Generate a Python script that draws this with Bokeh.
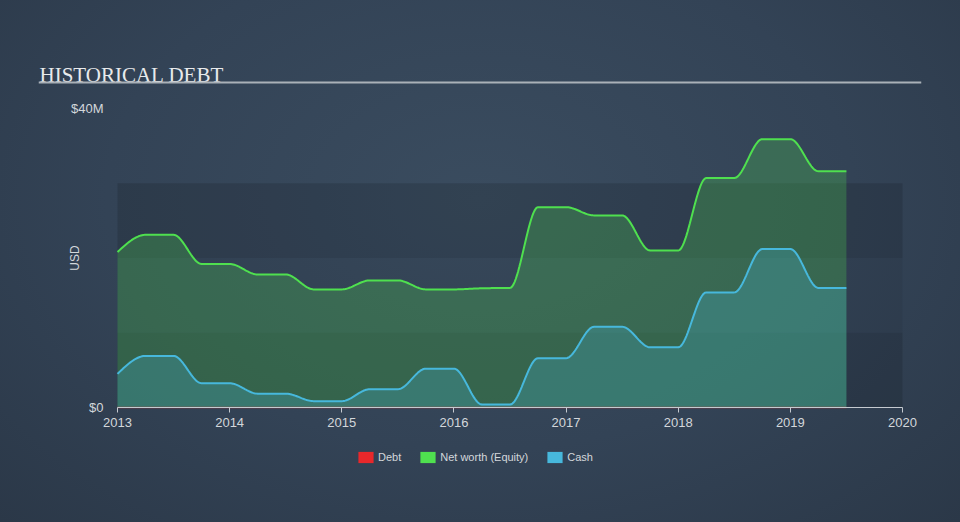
from bokeh.plotting import figure
from bokeh.models import Range1d, FixedTicker, Legend, LegendItem, Label, BoxAnnotation
from bokeh.embed import file_html
from bokeh.resources import INLINE

# ---------------- data (USD millions, quarterly) ----------------
years = [2013.0, 2013.25, 2013.5, 2013.75, 2014.0, 2014.25, 2014.5, 2014.75,
         2015.0, 2015.25, 2015.5, 2015.75, 2016.0, 2016.25, 2016.5, 2016.75,
         2017.0, 2017.25, 2017.5, 2017.75, 2018.0, 2018.25, 2018.5, 2018.75,
         2019.0, 2019.25, 2019.5]
debt = [0.0] * 27
equity = [20.8, 23.1, 23.1, 19.2, 19.2, 17.8, 17.8, 15.8,
          15.8, 17.0, 17.0, 15.8, 15.8, 15.95, 16.0, 26.8,
          26.8, 25.7, 25.7, 21.0, 21.0, 30.7, 30.7, 35.9,
          35.9, 31.6, 31.6]
cash = [4.5, 6.9, 6.9, 3.25, 3.25, 1.85, 1.85, 0.85,
        0.85, 2.45, 2.45, 5.2, 5.2, 0.4, 0.4, 6.6,
        6.6, 10.8, 10.8, 8.05, 8.05, 15.4, 15.4, 21.2,
        21.2, 16.0, 16.0]
x_ticks = [2013, 2014, 2015, 2016, 2017, 2018, 2019, 2020]
x_tick_labels = ["2013", "2014", "2015", "2016", "2017", "2018", "2019", "2020"]
y_ticks = [0, 40]
y_tick_labels = ["$0", "$40M"]
band_edges = [0, 10, 20, 30]
series_names = ["Debt", "Net worth (Equity)", "Cash"]
title_text = "HISTORICAL DEBT"

GREEN = "#4fe04f"
BLUE = "#47b8dc"
RED = "#e8282b"
TEXT = "#d3d7db"
NAN = float("nan")


def monotone_x(xs, ys, steps=24):
    """Render-time smoothing like d3.curveMonotoneX between the read points."""
    n = len(xs)
    h = [xs[i + 1] - xs[i] for i in range(n - 1)]
    s = [(ys[i + 1] - ys[i]) / h[i] for i in range(n - 1)]
    sign = lambda v: -1.0 if v < 0 else 1.0
    m = [0.0] * n
    for i in range(1, n - 1):
        p_ = (s[i - 1] * h[i] + s[i] * h[i - 1]) / (h[i - 1] + h[i])
        m[i] = (sign(s[i - 1]) + sign(s[i])) * min(abs(s[i - 1]), abs(s[i]), 0.5 * abs(p_))
    m[0] = (3 * s[0] - m[1]) / 2
    m[-1] = (3 * s[-1] - m[-2]) / 2
    ox, oy = [xs[0]], [ys[0]]
    for i in range(n - 1):
        x0, x1, y0, y1 = xs[i], xs[i + 1], ys[i], ys[i + 1]
        d = h[i] / 3
        c1, c2 = y0 + d * m[i], y1 - d * m[i + 1]
        for k in range(1, steps + 1):
            t = k / steps
            u = 1 - t
            ox.append(x0 + (x1 - x0) * t)
            oy.append(u**3 * y0 + 3 * u * u * t * c1 + 3 * u * t * t * c2 + t**3 * y1)
    return ox, oy


# layout helpers: page pixel -> data coordinate (plot area 2013..2020 spans x 117..902,
# 0..40M spans y 407..108); used only to place decorations and the extended frame
def fx(px):
    return 2013 + (px - 117) / ((902 - 117) / 7)


def fy(py):
    return (407 - py) / ((407 - 108) / 40)


L, R, T, B = 38, 921, 40, 482   # frame box in page pixels
p = figure(width=960, height=522, x_range=Range1d(fx(L), fx(R)), y_range=Range1d(fy(B), fy(T)),
           output_backend="svg", toolbar_location=None,
           min_border_left=L, min_border_right=960 - R, min_border_top=T, min_border_bottom=522 - B)
p.background_fill_alpha = 0
p.border_fill_alpha = 0
p.outline_line_color = None
p.xgrid.visible = False
p.ygrid.visible = False
p.styles = {"background": "radial-gradient(ellipse at 50% 38%, #3a4c5f 0%, #334356 55%, #2b3848 100%)"}

# alternating bands behind the data
for i in range(len(band_edges) - 1):
    p.add_layout(BoxAnnotation(bottom=band_edges[i], top=band_edges[i + 1], left=x_ticks[0], right=x_ticks[-1],
                               fill_color="#000000", fill_alpha=0.13 if i % 2 == 0 else 0.05,
                               line_color=None, level="underlay"))

ex, ey = monotone_x(years, equity)
cx, cy = monotone_x(years, cash)

p.varea(x=ex, y1=0, y2=ey, fill_color=GREEN, fill_alpha=0.25)
p.varea(x=cx, y1=0, y2=cy, fill_color=BLUE, fill_alpha=0.25)
p.line(ex, ey, line_color=GREEN, line_width=2)
p.line(cx, cy, line_color=BLUE, line_width=2)

# axes pinned to the plot area
xa = p.xaxis[0]
xa.fixed_location = 0
xa.bounds = (x_ticks[0], x_ticks[-1])
xa.ticker = FixedTicker(ticks=x_ticks)
xa.major_label_overrides = {tk: lb for tk, lb in zip(x_ticks, x_tick_labels)}
xa.axis_line_color = "#c5cad0"
xa.major_tick_line_color = "#c5cad0"
xa.major_tick_in = 0
xa.major_tick_out = 5
xa.minor_tick_line_color = None
xa.major_label_standoff = 5
xa.major_label_text_color = TEXT
xa.major_label_text_font = "Liberation Sans"
xa.major_label_text_font_size = "13px"

p.line(years, debt, line_color=RED, line_width=1.5, line_alpha=0.6)

ya = p.yaxis[0]
ya.fixed_location = x_ticks[0]
ya.bounds = (y_ticks[0], y_ticks[-1])
ya.ticker = FixedTicker(ticks=y_ticks)
ya.major_label_overrides = {tk: lb for tk, lb in zip(y_ticks, y_tick_labels)}
ya.axis_line_color = None
ya.major_tick_line_color = None
ya.major_tick_out = 0
ya.major_tick_in = 0
ya.minor_tick_line_color = None
ya.major_label_standoff = 14
ya.major_label_text_color = TEXT
ya.major_label_text_font = "Liberation Sans"
ya.major_label_text_font_size = "13px"
ya.axis_label = "USD"
ya.axis_label_standoff = -14
ya.axis_label_text_color = TEXT
ya.axis_label_text_font = "Liberation Sans"
ya.axis_label_text_font_size = "12px"
ya.axis_label_text_font_style = "normal"

# title + underline
p.add_layout(Label(x=fx(39), y=fy(74), text=title_text, text_baseline="alphabetic",
                   text_font="Liberation Serif", text_font_size="21px", text_color="#e8eaec"))
p.add_layout(BoxAnnotation(left=fx(38), right=fx(921), top=fy(81), bottom=fy(83),
                           fill_color="#aab1b8", fill_alpha=1, line_color=None))

# legend swatches: solid-colour stand-ins with no visible mark in the plot
swatches = []
for c in (RED, GREEN, BLUE):
    swatches.append(p.quad(left=[NAN], right=[NAN], top=[NAN], bottom=[NAN],
                           fill_color=c, fill_alpha=1.0, line_color=None))
legend = Legend(items=[LegendItem(label=nm, renderers=[r]) for nm, r in zip(series_names, swatches)],
                orientation="horizontal", location=(356 - L, B - 464),
                background_fill_alpha=0, border_line_color=None,
                label_text_color=TEXT, label_text_font="Liberation Sans", label_text_font_size="11px",
                glyph_width=19, glyph_height=14, label_height=14, label_standoff=3,
                spacing=17, padding=0, margin=0)
p.add_layout(legend)

open("out.html", "w").write(file_html(p, INLINE))
